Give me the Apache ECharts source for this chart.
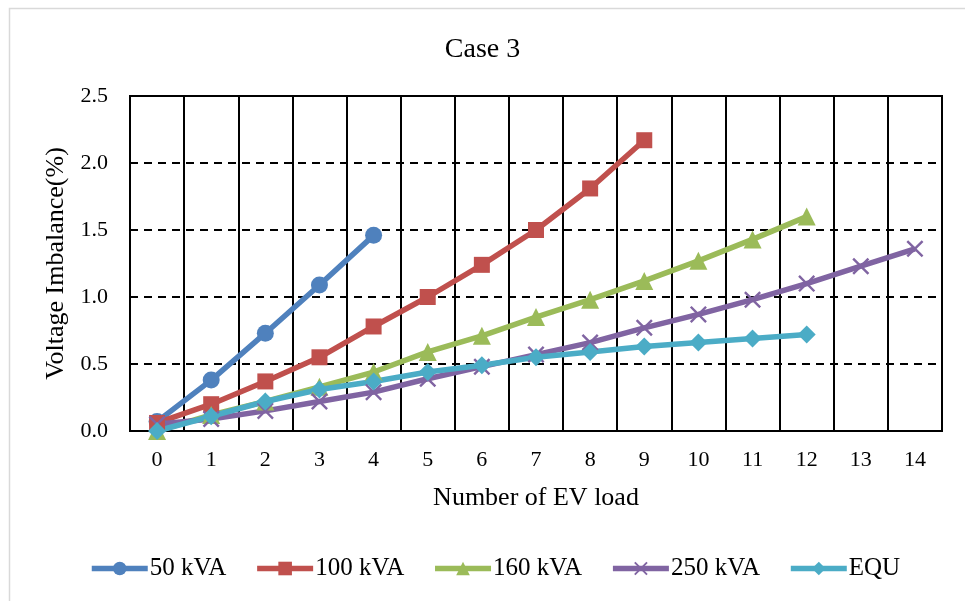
<!DOCTYPE html>
<html>
<head>
<meta charset="utf-8">
<script src="https://cdn.jsdelivr.net/npm/echarts@6/dist/echarts.min.js"></script>
<style>
  html, body { margin: 0; padding: 0; background: #fff; }
  #chart { width: 965px; height: 601px; }
</style>
</head>
<body>
<div id="chart"></div>
<script>
// Number of EV loads on the feeder
const categories = ['0','1','2','3','4','5','6','7','8','9','10','11','12','13','14'];

// Voltage imbalance (%) per transformer rating
const kva50  = [0.07, 0.38, 0.73, 1.09, 1.46];
const kva100 = [0.06, 0.20, 0.37, 0.55, 0.78, 1.00, 1.24, 1.50, 1.81, 2.17];
const kva160 = [0.00, 0.12, 0.22, 0.33, 0.44, 0.59, 0.71, 0.85, 0.98, 1.12, 1.27, 1.43, 1.60];
const kva250 = [0.05, 0.09, 0.15, 0.22, 0.29, 0.39, 0.48, 0.57, 0.66, 0.77, 0.87, 0.98, 1.10, 1.23, 1.36];
const equ    = [0.00, 0.11, 0.22, 0.31, 0.37, 0.44, 0.49, 0.55, 0.59, 0.63, 0.66, 0.69, 0.72];

const yTicks = [0, 0.5, 1.0, 1.5, 2.0, 2.5];

const FONT = '"Liberation Serif", "Times New Roman", serif';
const crossPath = 'path://M0,1 L1,0 L5,4 L9,0 L10,1 L6,5 L10,9 L9,10 L5,6 L1,10 L0,9 L4,5 Z';
const LINE_W = 5.5;

function lineSeries(name, data, color, symbol, size) {
  return {
    name: name,
    type: 'line',
    data: data,
    symbol: symbol,
    symbolSize: size,
    showSymbol: true,
    lineStyle: { color: color, width: LINE_W },
    itemStyle: { color: color },
    emphasis: { disabled: true },
    animation: false,
    z: 3
  };
}

const chart = echarts.init(document.getElementById('chart'));
chart.setOption({
  backgroundColor: '#ffffff',
  animation: false,
  graphic: [{
    type: 'rect',
    left: 7, top: 6,
    shape: { width: 1000, height: 700 },
    style: { fill: 'none', stroke: '#d9d9d9', lineWidth: 1.5 },
    silent: true,
    z: -1
  }],
  title: {
    text: 'Case 3',
    left: 'center',
    top: 31,
    textStyle: { fontFamily: FONT, fontSize: 28, fontWeight: 'normal', color: '#000' }
  },
  grid: {
    left: 130, right: 23, top: 96, bottom: 170,
    show: true,
    borderColor: '#000',
    borderWidth: 2,
    containLabel: false
  },
  legend: {
    top: 551,
    left: 84,
    itemWidth: 56,
    itemHeight: 17,
    itemGap: 28,
    lineStyle: { width: LINE_W },
    textStyle: { fontFamily: FONT, fontSize: 25, color: '#000', padding: [0, 0, 0, -3] },
    data: ['50 kVA', '100 kVA', '160 kVA', '250 kVA', 'EQU']
  },
  xAxis: {
    type: 'category',
    data: categories,
    boundaryGap: true,
    name: 'Number of EV load',
    nameLocation: 'middle',
    nameGap: 54,
    nameTextStyle: { fontFamily: FONT, fontSize: 26, color: '#000' },
    axisLine: { lineStyle: { color: '#000', width: 2 } },
    axisTick: { show: false },
    axisLabel: { fontFamily: FONT, fontSize: 22, color: '#000', margin: 18 },
    splitLine: { show: true, lineStyle: { color: '#000', width: 2, type: 'solid' } }
  },
  yAxis: {
    type: 'value',
    min: yTicks[0],
    max: yTicks[yTicks.length - 1],
    interval: 0.5,
    name: 'Voltage Imbalance(%)',
    nameLocation: 'middle',
    nameGap: 55,
    nameTextStyle: { fontFamily: FONT, fontSize: 26, color: '#000' },
    axisLine: { show: true, lineStyle: { color: '#000', width: 2 } },
    axisTick: { show: false },
    axisLabel: {
      fontFamily: FONT, fontSize: 22, color: '#000', margin: 22,
      formatter: v => v.toFixed(1)
    },
    splitLine: { show: true, lineStyle: { color: '#000', width: 2, type: [8, 6] } }
  },
  series: [
    lineSeries('50 kVA', kva50, '#4F81BD', 'circle', 17),
    lineSeries('100 kVA', kva100, '#C0504D', 'rect', 16),
    lineSeries('160 kVA', kva160, '#9BBB59', 'triangle', 18),
    lineSeries('250 kVA', kva250, '#8064A2', crossPath, 17),
    lineSeries('EQU', equ, '#4BACC6', 'diamond', 18)
  ]
});
</script>
</body>
</html>
